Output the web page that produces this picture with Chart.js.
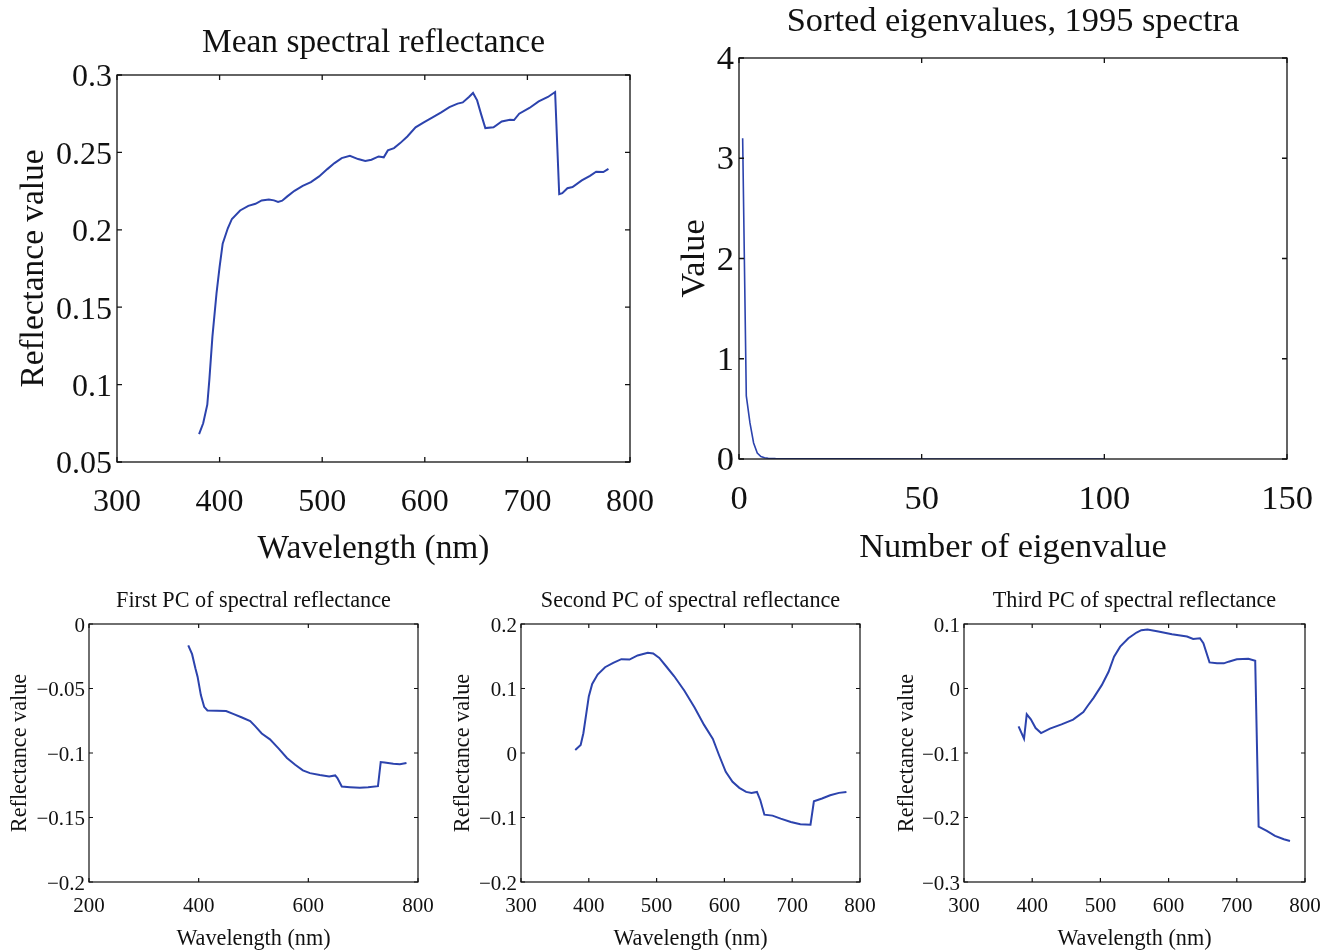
<!DOCTYPE html>
<html>
<head>
<meta charset="utf-8">
<title>Spectral reflectance and principal components</title>
<script src="https://cdn.jsdelivr.net/npm/chart.js@4.4.1/dist/chart.umd.min.js"></script>
<style>
  html, body { margin: 0; padding: 0; background: #fff; }
  .panel { position: absolute; left: 0; top: 0; }
</style>
</head>
<body>
<canvas id="meanChart" class="panel" width="1333" height="950"></canvas>
<canvas id="eigChart" class="panel" width="1333" height="950"></canvas>
<canvas id="pc1Chart" class="panel" width="1333" height="950"></canvas>
<canvas id="pc2Chart" class="panel" width="1333" height="950"></canvas>
<canvas id="pc3Chart" class="panel" width="1333" height="950"></canvas>
<script>
// mean reflectance over all spectra
const meanWavelength = [
  380, 384, 388, 390, 393, 397, 400, 403, 408, 412,
  420, 428, 435, 441, 448, 453, 457, 461, 466, 473,
  481, 489, 497, 505, 512, 519, 527, 535, 542, 548,
  555, 560, 564, 570, 576, 583, 591, 599, 608, 616,
  624, 632, 637, 643, 647, 651, 655, 659, 667, 675,
  683, 687, 692, 702, 711, 720, 727, 731, 734, 739,
  744, 753, 761, 767, 774, 779
];
const meanReflectance = [
  0.068, 0.075, 0.087, 0.103, 0.131, 0.159, 0.176, 0.191, 0.201, 0.207,
  0.2125, 0.2155, 0.2168, 0.219, 0.2196, 0.219, 0.218, 0.2188, 0.2216, 0.2252,
  0.2284, 0.2308, 0.2345, 0.2392, 0.2431, 0.2463, 0.2478, 0.2457, 0.2444, 0.2453,
  0.2474, 0.2468, 0.2513, 0.2528, 0.256, 0.2603, 0.2662, 0.2694, 0.2728, 0.2759,
  0.2793, 0.2815, 0.2823, 0.2858, 0.2884, 0.2836, 0.2744, 0.2657, 0.2662, 0.27,
  0.2711, 0.2709, 0.275, 0.2787, 0.283, 0.2858, 0.289, 0.223, 0.2237, 0.2269,
  0.2276, 0.2319, 0.2349, 0.2375, 0.2373, 0.2394
];

// sorted eigenvalues of the covariance matrix
const eigIndex = [1, 2, 3, 4, 5, 6, 7, 8, 10, 15, 20, 30, 50, 75, 100];
const eigValue = [3.2, 0.63, 0.36, 0.16, 0.06, 0.025, 0.012, 0.008, 0.005, 0.003, 0.002, 0.001, 0.0005, 0.0002, 0.0001];

// first three principal components
const pc1Wavelength = [
  381, 388, 394, 398, 404, 410, 416, 433, 450, 464,
  479, 494, 503, 515, 530, 546, 561, 576, 590, 603,
  621, 638, 649, 653, 661, 676, 694, 709, 727, 732,
  739, 755, 767, 779
];
const pc1Value = [
  -0.0166, -0.0234, -0.0343, -0.0408, -0.0551, -0.0642, -0.067, -0.0673, -0.0675, -0.0699,
  -0.0725, -0.0753, -0.0792, -0.0849, -0.0894, -0.0966, -0.1039, -0.1091, -0.1135, -0.1156,
  -0.1171, -0.1182, -0.1174, -0.1195, -0.126, -0.1265, -0.127, -0.1265, -0.1257, -0.107,
  -0.1073, -0.1083, -0.1088, -0.1078
];

const pc2Wavelength = [
  380, 388, 392, 396, 400, 405, 413, 424, 436, 448,
  460, 472, 487, 495, 504, 514, 526, 541, 556, 570,
  583, 592, 602, 612, 622, 632, 640, 648, 653, 659,
  671, 683, 698, 712, 727, 732, 744, 756, 769, 780
];
const pc2Value = [
  0.0047, 0.0125, 0.0306, 0.0592, 0.0878, 0.107, 0.1216, 0.133, 0.1397, 0.1455,
  0.1449, 0.1512, 0.1553, 0.1543, 0.1475, 0.1345, 0.119, 0.0966, 0.0707, 0.0436,
  0.0218, -0.0031, -0.0291, -0.0447, -0.054, -0.0603, -0.0618, -0.0603, -0.0732, -0.0956,
  -0.0971, -0.1018, -0.107, -0.1106, -0.1112, -0.0748, -0.0706, -0.0655, -0.0618, -0.0603
];

const pc3Wavelength = [
  380, 388, 392, 398, 405, 413, 426, 443, 460, 475,
  482, 490, 502, 512, 520, 529, 541, 553, 560, 569,
  585, 605, 627, 636, 646, 651, 660, 671, 681, 688,
  700, 717, 727, 732, 744, 756, 769, 778
];
const pc3Value = [
  -0.0587, -0.0779, -0.04, -0.0478, -0.0613, -0.0691, -0.0623, -0.0556, -0.0483, -0.0364,
  -0.026, -0.0145, 0.0052, 0.026, 0.0494, 0.0649, 0.0779, 0.0868, 0.0904, 0.0914,
  0.0883, 0.0842, 0.0805, 0.0769, 0.0779, 0.0701, 0.0405, 0.039, 0.039, 0.0416,
  0.0452, 0.0462, 0.0431, -0.214, -0.2208, -0.2286, -0.2338, -0.2364
];

const lineColor = '#2c43ad';
const textColor = '#111';
const serif = '"Liberation Serif", "Times New Roman", Times, serif';
const pageW = 1333, pageH = 950;

// tick text with a real minus sign
const fmt = v => String(+Number(v).toFixed(3)).replace('-', '\u2212');

// boxed axes with inward ticks on all four sides, plus title and axis labels
const matlabFrame = {
  id: 'matlabFrame',
  afterDraw(chart, args, opts) {
    const { ctx, chartArea: a, scales } = chart;
    const t = opts.tickLen;
    ctx.save();
    ctx.strokeStyle = textColor;
    ctx.lineWidth = opts.frameWidth;
    ctx.strokeRect(a.left, a.top, a.right - a.left, a.bottom - a.top);
    ctx.beginPath();
    scales.x.ticks.forEach(tk => {
      const px = scales.x.getPixelForValue(tk.value);
      ctx.moveTo(px, a.bottom); ctx.lineTo(px, a.bottom - t);
      ctx.moveTo(px, a.top); ctx.lineTo(px, a.top + t);
    });
    scales.y.ticks.forEach(tk => {
      const py = scales.y.getPixelForValue(tk.value);
      ctx.moveTo(a.left, py); ctx.lineTo(a.left + t, py);
      ctx.moveTo(a.right, py); ctx.lineTo(a.right - t, py);
    });
    ctx.stroke();

    ctx.fillStyle = textColor;
    ctx.font = opts.fontSize + 'px ' + serif;
    ctx.textAlign = 'center';
    ctx.textBaseline = 'middle';
    const cx = (a.left + a.right) / 2;
    const cy = (a.top + a.bottom) / 2;
    ctx.fillText(opts.title, cx, a.top - opts.titleGap);
    ctx.fillText(opts.xLabel, cx, a.bottom + opts.xLabelGap);
    ctx.translate(a.left - opts.yLabelGap, cy);
    ctx.rotate(-Math.PI / 2);
    ctx.fillText(opts.yLabel, 0, 0);
    ctx.restore();
  }
};

function makePanel(id, p) {
  const [left, top, right, bottom] = p.box;
  const font = { family: serif, size: p.tickSize };
  return new Chart(document.getElementById(id), {
    type: 'line',
    data: {
      datasets: [{
        data: p.xs.map((x, i) => ({ x: x, y: p.ys[i] })),
        borderColor: lineColor,
        borderWidth: p.lineWidth,
        pointRadius: 0,
        tension: 0,
        fill: false
      }]
    },
    options: {
      responsive: false,
      animation: false,
      events: [],
      layout: {
        padding: {
          left: left - p.yAxisW,
          top: top,
          right: pageW - right,
          bottom: pageH - bottom - p.xAxisH
        }
      },
      plugins: {
        legend: { display: false },
        tooltip: { enabled: false },
        matlabFrame: {
          title: p.title,
          xLabel: p.xLabel,
          yLabel: p.yLabel,
          fontSize: p.labelSize,
          titleGap: p.titleGap,
          xLabelGap: p.xLabelGap,
          yLabelGap: p.yLabelGap,
          tickLen: p.tickLen,
          frameWidth: p.frameWidth
        }
      },
      scales: {
        x: {
          type: 'linear',
          min: p.xRange[0],
          max: p.xRange[1],
          grid: { display: false, drawTicks: false },
          border: { display: false },
          ticks: {
            stepSize: p.xStep,
            autoSkip: false,
            maxRotation: 0,
            font: font,
            color: textColor,
            padding: p.xTickPad,
            callback: fmt
          },
          afterFit(s) { s.height = p.xAxisH; s.paddingLeft = 0; s.paddingRight = 0; }
        },
        y: {
          type: 'linear',
          min: p.yRange[0],
          max: p.yRange[1],
          grid: { display: false, drawTicks: false },
          border: { display: false },
          ticks: {
            stepSize: p.yStep,
            autoSkip: false,
            font: font,
            color: textColor,
            padding: p.yTickPad,
            labelOffset: p.yTickShift,
            callback: fmt
          },
          afterFit(s) { s.width = p.yAxisW; s.paddingTop = 0; s.paddingBottom = 0; }
        }
      }
    },
    plugins: [matlabFrame]
  });
}

const bigText = { tickSize: 32, labelSize: 33.4, yAxisW: 80, xAxisH: 60, xTickPad: 21, yTickPad: 5, yTickShift: 3, tickLen: 5, frameWidth: 1.3 };
const smallText = { tickSize: 21, labelSize: 22.2, yAxisW: 70, xAxisH: 30, xTickPad: 12, yTickPad: 4, yTickShift: 2, tickLen: 4, frameWidth: 1.2 };

makePanel('meanChart', Object.assign({}, bigText, {
  box: [117, 75, 630, 462],
  xs: meanWavelength, ys: meanReflectance, lineWidth: 2,
  xRange: [300, 800], xStep: 100, yRange: [0.05, 0.3], yStep: 0.05,
  title: 'Mean spectral reflectance', xLabel: 'Wavelength (nm)', yLabel: 'Reflectance value',
  titleGap: 32, xLabelGap: 87, yLabelGap: 83
}));

makePanel('eigChart', Object.assign({}, bigText, {
  box: [739, 58, 1287, 459],
  tickSize: 34.5, labelSize: 34.4, xTickPad: 20, yTickShift: 2,
  xs: eigIndex, ys: eigValue, lineWidth: 1.6,
  xRange: [0, 150], xStep: 50, yRange: [0, 4], yStep: 1,
  title: 'Sorted eigenvalues, 1995 spectra', xLabel: 'Number of eigenvalue', yLabel: 'Value',
  titleGap: 36, xLabelGap: 89, yLabelGap: 44
}));

makePanel('pc1Chart', Object.assign({}, smallText, {
  box: [89, 624, 418, 882],
  xs: pc1Wavelength, ys: pc1Value, lineWidth: 2,
  xRange: [200, 800], xStep: 200, yRange: [-0.2, 0], yStep: 0.05,
  title: 'First PC of spectral reflectance', xLabel: 'Wavelength (nm)', yLabel: 'Reflectance value',
  titleGap: 23, xLabelGap: 57, yLabelGap: 69
}));

makePanel('pc2Chart', Object.assign({}, smallText, {
  box: [521, 624, 860, 882],
  xs: pc2Wavelength, ys: pc2Value, lineWidth: 2,
  xRange: [300, 800], xStep: 100, yRange: [-0.2, 0.2], yStep: 0.1,
  title: 'Second PC of spectral reflectance', xLabel: 'Wavelength (nm)', yLabel: 'Reflectance value',
  titleGap: 23, xLabelGap: 57, yLabelGap: 58
}));

makePanel('pc3Chart', Object.assign({}, smallText, {
  box: [964, 624, 1305, 882],
  xs: pc3Wavelength, ys: pc3Value, lineWidth: 2,
  xRange: [300, 800], xStep: 100, yRange: [-0.3, 0.1], yStep: 0.1,
  title: 'Third PC of spectral reflectance', xLabel: 'Wavelength (nm)', yLabel: 'Reflectance value',
  titleGap: 23, xLabelGap: 57, yLabelGap: 57
}));
</script>
</body>
</html>
